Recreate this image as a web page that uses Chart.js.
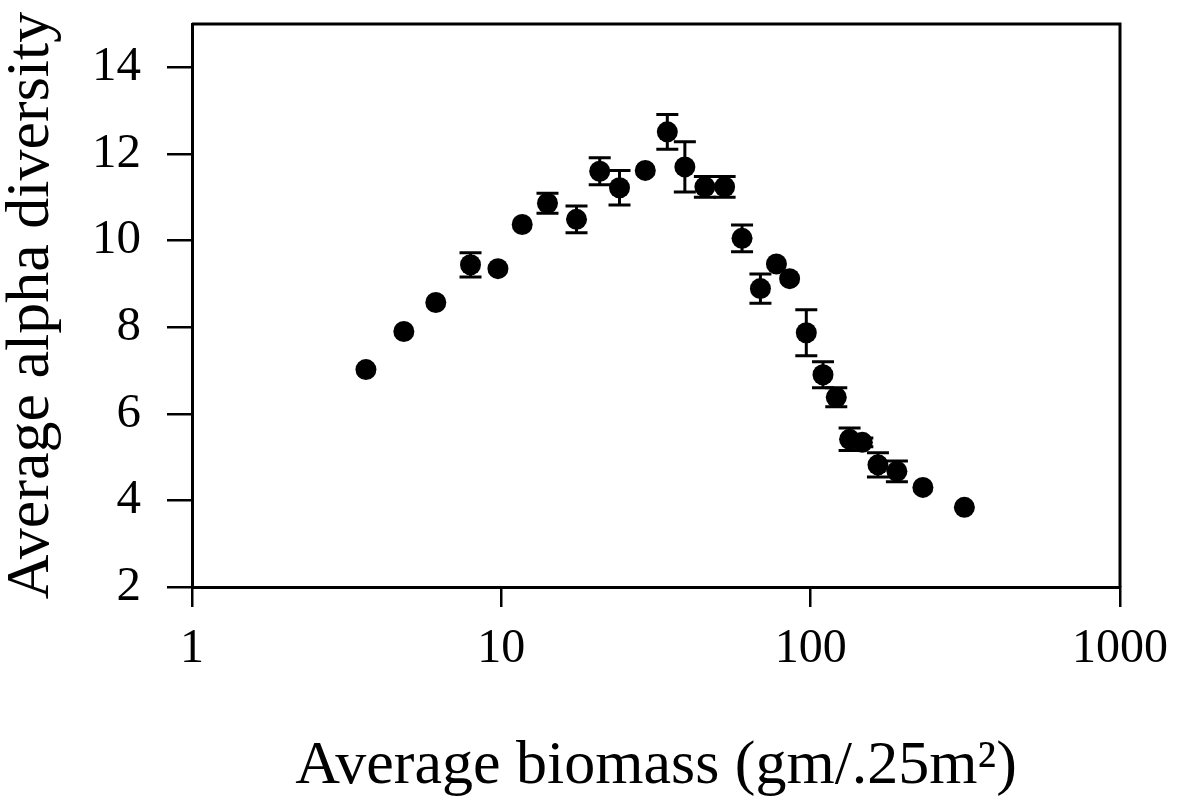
<!DOCTYPE html>
<html>
<head>
<meta charset="utf-8">
<script src="https://cdn.jsdelivr.net/npm/chart.js@4/dist/chart.umd.min.js"></script>
<style>
  html, body { margin: 0; padding: 0; background: #fff; }
  #wrap { width: 1184px; height: 803px; }
</style>
</head>
<body>
<div id="wrap"><canvas id="c" width="1184" height="803"></canvas></div>
<script>
// Average biomass (x, log scale)
const biomass = [3.65, 4.84, 6.14, 7.95, 9.75, 11.68, 14.1, 17.5, 20.8, 24.1, 29.2, 34.4, 39.2, 45.5, 52.7, 60.0, 68.8, 77.5, 85.5, 96.8, 109.6, 121, 133.6, 146.9, 165, 190, 230.6, 314];
// Average alpha diversity (y)
const diversity = [7.02, 7.9, 8.57, 9.44, 9.35, 10.37, 10.86, 10.49, 11.6, 11.22, 11.62, 12.51, 11.70, 11.24, 11.24, 10.05, 8.89, 9.46, 9.12, 7.87, 6.90, 6.38, 5.41, 5.34, 4.82, 4.67, 4.30, 3.84];
// Standard error (symmetric)
const stdErr = [0, 0, 0, 0.28, 0, 0, 0.23, 0.31, 0.31, 0.4, 0, 0.4, 0.58, 0.24, 0.24, 0.31, 0.34, 0, 0, 0.53, 0.3, 0.22, 0.26, 0.1, 0.28, 0.24, 0, 0];

const xTickValues = [1, 10, 100, 1000];
const xTickLabels = ['1', '10', '100', '1000'];
const yTickValues = [2, 4, 6, 8, 10, 12, 14];
const yTickLabels = ['2', '4', '6', '8', '10', '12', '14'];

const xTitle = 'Average biomass (gm/.25m\u00B2)';
const yTitle = 'Average alpha diversity';

const points = biomass.map((b, i) => ({ x: b, y: diversity[i] }));

const errorBars = {
  id: 'errorBars',
  beforeDatasetsDraw(chart) {
    const ctx = chart.ctx;
    const xs = chart.scales.x, ys = chart.scales.y;
    ctx.save();
    ctx.strokeStyle = '#000';
    ctx.lineWidth = 3;
    const cap = 11;
    biomass.forEach((b, i) => {
      const e = stdErr[i];
      if (!e) return;
      const px = xs.getPixelForValue(b);
      const yt = ys.getPixelForValue(diversity[i] + e);
      const yb = ys.getPixelForValue(diversity[i] - e);
      ctx.beginPath();
      ctx.moveTo(px, yt); ctx.lineTo(px, yb);
      ctx.moveTo(px - cap, yt); ctx.lineTo(px + cap, yt);
      ctx.moveTo(px - cap, yb); ctx.lineTo(px + cap, yb);
      ctx.stroke();
    });
    ctx.restore();
  },
  afterDraw(chart) {
    const a = chart.chartArea;
    const ctx = chart.ctx;
    ctx.save();
    ctx.strokeStyle = '#000';
    ctx.lineWidth = 3;
    ctx.beginPath();
    ctx.moveTo(a.left, a.top); ctx.lineTo(a.right, a.top); ctx.lineTo(a.right, a.bottom);
    ctx.stroke();
    ctx.restore();
  }
};

new Chart(document.getElementById('c'), {
  type: 'scatter',
  data: {
    datasets: [{
      data: points,
      backgroundColor: '#000',
      borderColor: '#000',
      borderWidth: 0,
      pointRadius: 10.5,
      pointHoverRadius: 10.5
    }]
  },
  plugins: [errorBars],
  options: {
    responsive: false,
    animation: false,
    devicePixelRatio: 1,
    layout: { padding: { top: 24, right: 64, left: 0, bottom: 0 } },
    plugins: { legend: { display: false }, tooltip: { enabled: false } },
    scales: {
      x: {
        type: 'logarithmic',
        min: 1, max: 1000,
        afterBuildTicks(scale) { scale.ticks = xTickValues.map(v => ({ value: v, major: true })); },
        afterFit(scale) { scale.height = 216; scale.paddingLeft = 0; scale.paddingRight = 0; },
        ticks: {
          color: '#000',
          font: { family: 'Liberation Serif', size: 48 },
          padding: 14,
          maxRotation: 0,
          autoSkip: false,
          callback: (v, i) => xTickLabels[i]
        },
        grid: { drawOnChartArea: false, drawTicks: true, tickLength: 20, color: '#000', lineWidth: 2.5 },
        border: { display: true, color: '#000', width: 3 },
        title: {
          display: true, text: xTitle, color: '#000',
          font: { family: 'Liberation Serif', size: 62, lineHeight: 1 },
          padding: { top: 0, bottom: 5 }
        }
      },
      y: {
        type: 'linear',
        min: 2, max: 15,
        afterBuildTicks(scale) { scale.ticks = yTickValues.map(v => ({ value: v })); },
        afterFit(scale) { scale.width = 192; scale.paddingTop = 0; scale.paddingBottom = 0; },
        ticks: {
          color: '#000',
          font: { family: 'Liberation Serif', size: 49 },
          padding: 26,
          autoSkip: false,
          callback: (v, i) => yTickLabels[i]
        },
        grid: { drawOnChartArea: false, drawTicks: true, tickLength: 25, color: '#000', lineWidth: 2.5 },
        border: { display: true, color: '#000', width: 3 },
        title: {
          display: true, text: yTitle, color: '#000',
          font: { family: 'Liberation Serif', size: 62, lineHeight: 1 },
          padding: { top: 1, bottom: 0 }
        }
      }
    }
  }
});
</script>
</body>
</html>
